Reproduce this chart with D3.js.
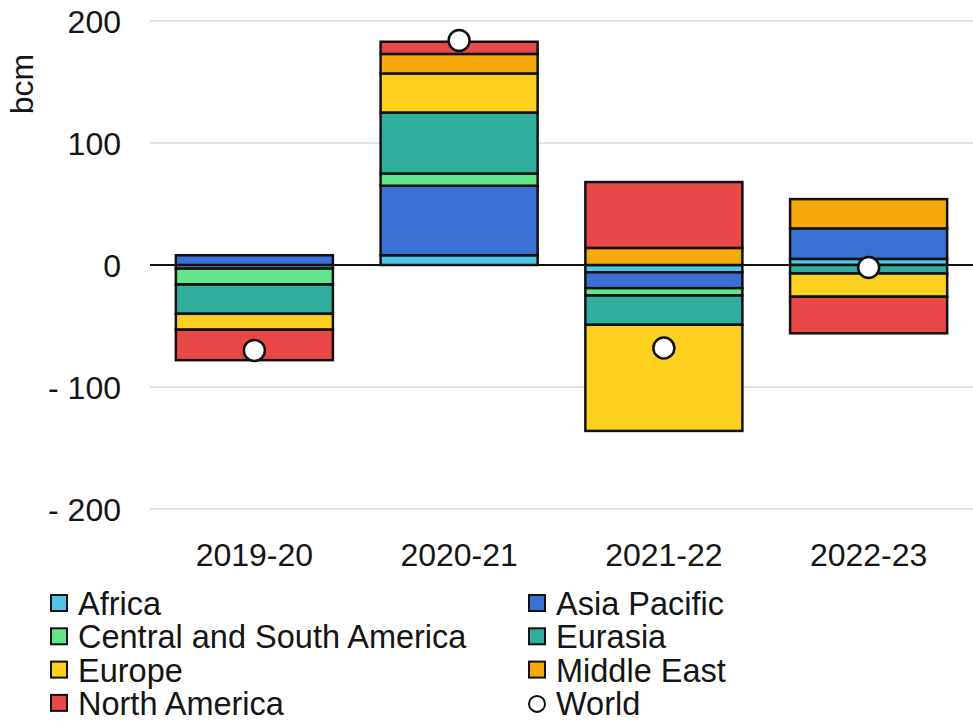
<!DOCTYPE html>
<html>
<head>
<meta charset="utf-8">
<script src="https://cdn.jsdelivr.net/npm/d3@7"></script>
<style>
  html, body { margin: 0; padding: 0; background: #fff; }
  svg { display: block; font-family: "Liberation Sans", Arial, sans-serif; }
</style>
</head>
<body>
<svg id="chart" width="973" height="726"></svg>
<script>
// ---- data ----
const categories = ["2019-20", "2020-21", "2021-22", "2022-23"];
const seriesNames = ["Africa", "Asia Pacific", "Central and South America", "Eurasia", "Europe", "Middle East", "North America"];
const africa        = [-3,   8,  -6,   5];
const asiaPacific   = [ 8,  57, -13,  25];
const centralSouth  = [-13, 10,  -6,   0];
const eurasia       = [-24, 50, -24,  -7];
const europe        = [-13, 32, -87, -19];
const middleEast    = [ 0,  16,  14,  24];
const northAmerica  = [-25, 10,  54, -30];
const world         = [-70, 184, -68, -2];
const yTicks = [200, 100, 0, -100, -200];
const seriesColors = ["#4fc6e6", "#3a6fd3", "#62e68c", "#2fae9c", "#fdd020", "#f6a90a", "#e94848"];

const seriesValues = [africa, asiaPacific, centralSouth, eurasia, europe, middleEast, northAmerica];

const svg = d3.select("#chart");
const x = d3.scaleBand().domain(categories).range([152, 971]).paddingInner(0.233).paddingOuter(0.1165);
const y = d3.scaleLinear().domain([-200, 200]).range([509, 21]);
const textColor = "#151515";

// gridlines
svg.append("g").selectAll("line").data(yTicks.filter(d => d !== 0)).join("line")
  .attr("x1", 150).attr("x2", 973)
  .attr("y1", d => y(d)).attr("y2", d => y(d))
  .attr("stroke", "#e3e3e3").attr("stroke-width", 2);

// y axis labels
const fmt = d => d < 0 ? "- " + Math.abs(d) : String(d);
const yAxis = d3.axisLeft(y).tickValues(yTicks).tickFormat(fmt).tickSize(0).tickPadding(0);
const gy = svg.append("g").attr("transform", "translate(121,0)").call(yAxis);
gy.select(".domain").remove();
gy.selectAll("text").attr("font-size", 32).attr("fill", textColor)
  .attr("font-family", "Liberation Sans, Arial, sans-serif")
  .attr("dy", "0.36em");

// y axis title
svg.append("text").attr("transform", "translate(33,84) rotate(-90)")
  .attr("text-anchor", "middle").attr("font-size", 32).attr("fill", textColor).text("bcm");

// stacked segments (diverging)
const segs = [];
categories.forEach((c, ci) => {
  let pos = 0, neg = 0;
  seriesValues.forEach((vals, si) => {
    const v = vals[ci];
    if (v === 0) return;
    if (v > 0) { segs.push({c, si, y0: pos, y1: pos + v}); pos += v; }
    else { segs.push({c, si, y0: neg + v, y1: neg}); neg += v; }
  });
});

svg.append("g").selectAll("rect").data(segs).join("rect")
  .attr("x", d => x(d.c))
  .attr("width", x.bandwidth())
  .attr("y", d => y(d.y1))
  .attr("height", d => y(d.y0) - y(d.y1))
  .attr("fill", d => seriesColors[d.si])
  .attr("stroke", "#111").attr("stroke-width", 2.5);

// zero line
svg.append("line").attr("x1", 150).attr("x2", 973)
  .attr("y1", y(0)).attr("y2", y(0))
  .attr("stroke", "#111").attr("stroke-width", 2);

// world markers
svg.append("g").selectAll("circle").data(categories).join("circle")
  .attr("cx", d => x(d) + x.bandwidth() / 2)
  .attr("cy", (d, i) => y(world[i]))
  .attr("r", 10.5)
  .attr("fill", "#fff").attr("stroke", "#111").attr("stroke-width", 2.5);

// x axis labels
const xAxis = d3.axisBottom(x).tickSize(0).tickPadding(0);
const gx = svg.append("g").attr("transform", "translate(0,566)").call(xAxis);
gx.select(".domain").remove();
gx.selectAll("text").attr("font-size", 32).attr("fill", textColor)
  .attr("font-family", "Liberation Sans, Arial, sans-serif")
  .attr("dy", 0);

// legend
const legendItems = seriesNames.map((n, i) => ({name: n, color: seriesColors[i], type: "rect"}))
  .concat([{name: "World", type: "circle"}]);
const leg = svg.append("g");
legendItems.forEach((it, i) => {
  const col = i % 2, row = Math.floor(i / 2);
  const gxp = col === 0 ? 51 : 529;
  const cy = 603 + row * 33.3;
  const g = leg.append("g");
  if (it.type === "rect") {
    g.append("rect").attr("x", gxp).attr("y", cy - 8).attr("width", 16).attr("height", 16)
      .attr("fill", it.color).attr("stroke", "#111").attr("stroke-width", 2);
  } else {
    g.append("circle").attr("cx", gxp + 8).attr("cy", cy + 1).attr("r", 8)
      .attr("fill", "#fff").attr("stroke", "#111").attr("stroke-width", 2);
  }
  g.append("text").attr("x", gxp + 27).attr("y", cy + 12)
    .attr("font-size", 32.5).attr("fill", textColor).text(it.name);
});
</script>
</body>
</html>
